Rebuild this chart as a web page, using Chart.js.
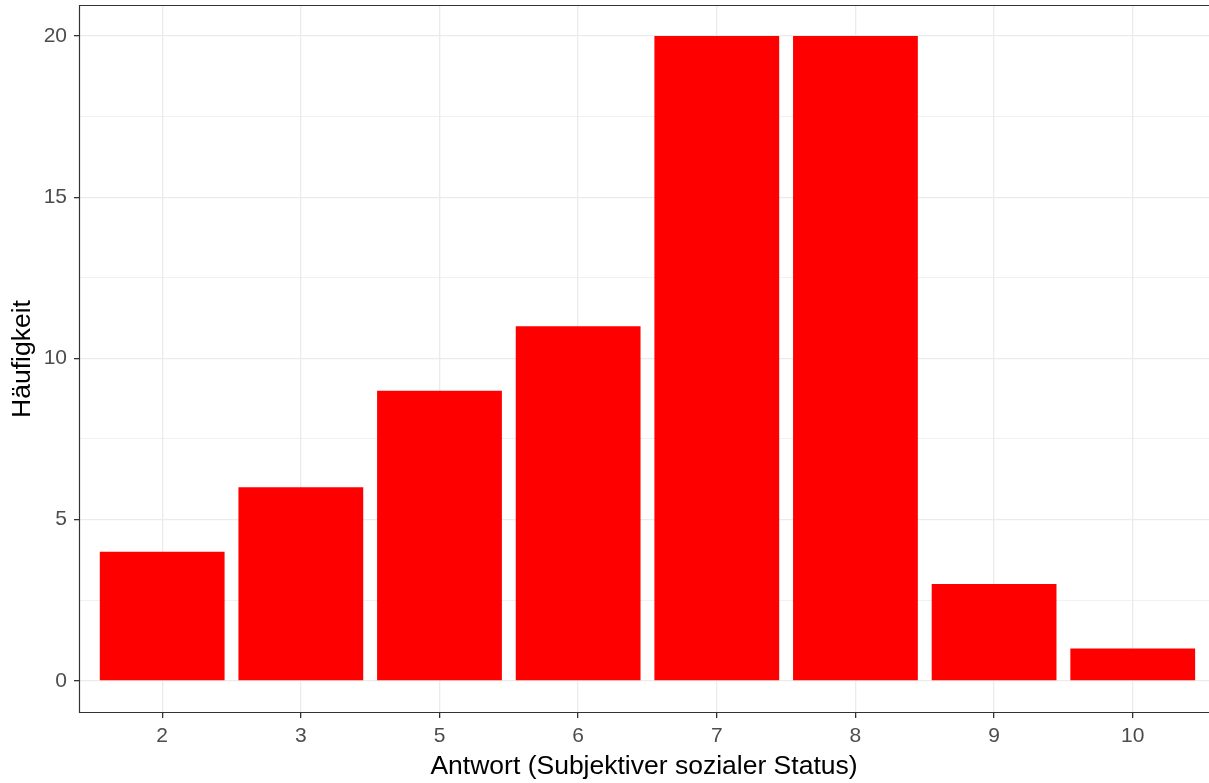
<!DOCTYPE html>
<html lang="de">
<head>
    <meta charset="UTF-8">
    <title>Subjektiver sozialer Status</title>
    <script src="https://cdn.jsdelivr.net/npm/chart.js"></script>
    <style>
        html, body { margin: 0; padding: 0; background: #fff; }
        #chart { display: block; }
    </style>
</head>
<body>
    <canvas id="chart" width="1209" height="783"></canvas>

    <script>
        // data
        const categories = ['2', '3', '5', '6', '7', '8', '9', '10'];
        const counts = [4, 6, 9, 11, 20, 20, 3, 1];
        const yTicks = [0, 5, 10, 15, 20];
        const yMinorTicks = [2.5, 7.5, 12.5, 17.5];

        const grey20 = '#333333';
        const grey30 = '#4D4D4D';
        const grid = '#EBEBEB';

        // panel border (top, left, bottom; right edge is off the picture)
        const panelBorder = {
            id: 'panelBorder',
            afterDraw(chart) {
                const a = chart.chartArea, ctx = chart.ctx;
                ctx.save();
                ctx.strokeStyle = grey20;
                ctx.lineWidth = 1.2;
                ctx.beginPath();
                ctx.moveTo(a.right + 2, a.top + 0.5);
                ctx.lineTo(a.left + 0.5, a.top + 0.5);
                ctx.lineTo(a.left + 0.5, a.bottom - 0.5);
                ctx.lineTo(a.right + 2, a.bottom - 0.5);
                ctx.stroke();
                ctx.restore();
            }
        };

        function noEdgePadding(scale) {
            scale.paddingTop = 0;
            scale.paddingBottom = 0;
            scale.paddingLeft = 0;
            scale.paddingRight = 0;
        }

        new Chart(document.getElementById('chart'), {
            type: 'bar',
            data: {
                datasets: [{
                    data: counts.map((v, i) => ({ x: i, y: v })),
                    backgroundColor: '#FF0000',
                    borderWidth: 0,
                    categoryPercentage: 1,
                    barPercentage: 0.9
                }]
            },
            options: {
                responsive: false,
                animation: false,
                devicePixelRatio: 1,
                layout: { padding: { top: 5, right: 0, left: 0, bottom: 0 } },
                plugins: {
                    legend: { display: false },
                    tooltip: { enabled: false }
                },
                scales: {
                    x: {
                        type: 'linear',
                        min: -0.6,
                        max: 7.55,
                        offset: false,
                        afterBuildTicks(scale) {
                            scale.ticks = categories.map((c, i) => ({ value: i }));
                        },
                        afterFit(scale) {
                            scale.height = 70;
                            noEdgePadding(scale);
                        },
                        border: { display: false },
                        grid: {
                            offset: false,
                            color: grid,
                            lineWidth: 1.3,
                            tickColor: grey20,
                            tickLength: 5,
                            tickWidth: 1.3
                        },
                        ticks: {
                            color: grey30,
                            font: { family: 'Liberation Sans, Arial', size: 21 },
                            padding: 6,
                            maxRotation: 0,
                            autoSkip: false,
                            callback: (v) => categories[v]
                        },
                        title: {
                            display: true,
                            text: 'Antwort (Subjektiver sozialer Status)',
                            color: '#000',
                            font: { family: 'Liberation Sans, Arial', size: 26.5 },
                            padding: { top: 0, bottom: 0 }
                        }
                    },
                    y: {
                        min: -0.998,
                        max: 20.96,
                        afterBuildTicks(scale) {
                            scale.ticks = yTicks.concat(yMinorTicks)
                                .sort((a, b) => a - b)
                                .map(v => ({ value: v }));
                        },
                        afterFit(scale) {
                            scale.width = 79;
                            noEdgePadding(scale);
                        },
                        border: { display: false },
                        grid: {
                            color: grid,
                            lineWidth: (c) => (c.tick && c.tick.value % 5 === 0) ? 1.3 : 0.7,
                            tickColor: (c) => (c.tick && c.tick.value % 5 === 0) ? grey20 : 'rgba(0,0,0,0)',
                            tickLength: 5,
                            tickWidth: 1.3
                        },
                        ticks: {
                            color: grey30,
                            font: { family: 'Liberation Sans, Arial', size: 21 },
                            padding: 7,
                            autoSkip: false,
                            callback: (v) => (v % 5 === 0 ? String(v) : '')
                        },
                        title: {
                            display: true,
                            text: 'Häufigkeit',
                            color: '#000',
                            font: { family: 'Liberation Sans, Arial', size: 26.5 },
                            padding: { top: 7, bottom: 0 }
                        }
                    }
                }
            },
            plugins: [panelBorder]
        });
    </script>
</body>
</html>
